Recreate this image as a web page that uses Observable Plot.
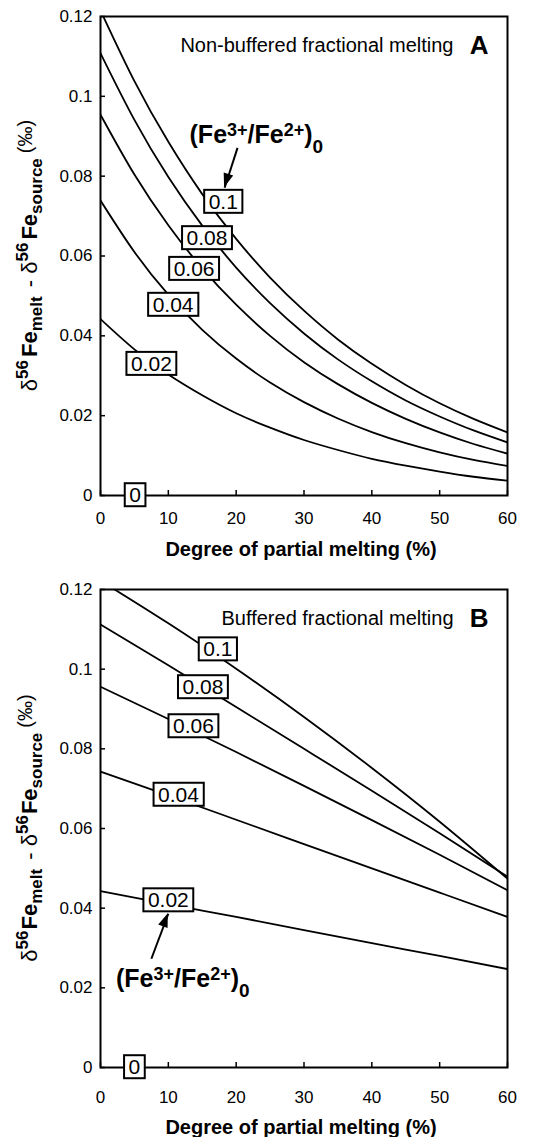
<!DOCTYPE html>
<html>
<head>
<meta charset="utf-8">
<script src="https://cdn.jsdelivr.net/npm/d3@7"></script>
<script src="https://cdn.jsdelivr.net/npm/@observablehq/plot@0.6"></script>
<style>
  html, body { margin: 0; padding: 0; background: #fff; }
  #wrap { width: 547px; }
  #wrap svg { display: block; }
</style>
</head>
<body>
<div id="wrap"></div>
<script>
// ---------- data ----------
const xTicks = [0, 10, 20, 30, 40, 50, 60];
const xTickLabels = ["0", "10", "20", "30", "40", "50", "60"];
const yTicks = [0, 0.02, 0.04, 0.06, 0.08, 0.1, 0.12];
const yTickLabels = ["0", "0.02", "0.04", "0.06", "0.08", "0.1", "0.12"];
const ratioKeys = ["0.1", "0.08", "0.06", "0.04", "0.02"];
const xTitle = "Degree of partial melting (%)";

// Panel A: non-buffered fractional melting
const meltA = [0, 5, 10, 15, 20, 25, 30, 35, 40, 45, 50, 55, 60];
const nonBuf010 = [0.1215, 0.1038, 0.0886, 0.0755, 0.0643, 0.0546, 0.0463, 0.0391, 0.0330, 0.0277, 0.0231, 0.0192, 0.0158];
const nonBuf008 = [0.1108, 0.0941, 0.0798, 0.0676, 0.0571, 0.0482, 0.0406, 0.0341, 0.0286, 0.0238, 0.0198, 0.0163, 0.0133];
const nonBuf006 = [0.0954, 0.0804, 0.0677, 0.0569, 0.0478, 0.0400, 0.0334, 0.0279, 0.0232, 0.0192, 0.0158, 0.0129, 0.0105];
const nonBuf004 = [0.0739, 0.0610, 0.0503, 0.0415, 0.0343, 0.0283, 0.0234, 0.0193, 0.0159, 0.0131, 0.0108, 0.0089, 0.0074];
const nonBuf002 = [0.0442, 0.0366, 0.0303, 0.0251, 0.0206, 0.0170, 0.0139, 0.0114, 0.0092, 0.0075, 0.0060, 0.0047, 0.0037];

// Panel B: buffered fractional melting
const meltB = [0, 10, 20, 30, 40, 50, 60];
const buf010 = [0.1222, 0.1115, 0.1001, 0.0880, 0.0752, 0.0617, 0.0474];
const buf008 = [0.1112, 0.1010, 0.0905, 0.0800, 0.0695, 0.0588, 0.0479];
const buf006 = [0.0956, 0.0875, 0.0792, 0.0707, 0.0621, 0.0534, 0.0445];
const buf004 = [0.0743, 0.0683, 0.0622, 0.0561, 0.0500, 0.0439, 0.0378];
const buf002 = [0.0443, 0.0410, 0.0378, 0.0345, 0.0312, 0.0280, 0.0247];

// curve labels (boxed)
const boxText = ["0.1", "0.08", "0.06", "0.04", "0.02", "0"];
const boxXA = [18.1, 15.7, 13.8, 10.7, 7.5, 5.1];
const boxYA = [0.0735, 0.0644, 0.0567, 0.0477, 0.0329, 0];
const boxXB = [17.3, 15.1, 13.7, 11.5, 10.0, 5.0];
const boxYB = [0.1049, 0.0954, 0.0856, 0.0684, 0.0419, 0];

// annotation "(Fe3+/Fe2+)0" with arrow
const annotA = {x: 13.2, y: 0.0883, from: [20.2, 0.0871], to: [18.3, 0.0771]};
const annotB = {x: 2.36, y: 0.0202, from: [7.5, 0.0273], to: [10.0, 0.0386]};

const FONT = '"Liberation Sans", Arial, Helvetica, sans-serif';
const BOX_FS = 21;

function buildPanel(cfg) {
  const rows = [];
  cfg.series.forEach((vals, k) => cfg.xs.forEach((x, i) => rows.push({F: x, d: vals[i], ratio: ratioKeys[k]})));
  const boxes = boxText.map((t, i) => ({t, x: cfg.boxX[i], y: cfg.boxY[i]}));
  const arrow = [{x1: cfg.annot.from[0], y1: cfg.annot.from[1], x2: cfg.annot.to[0], y2: cfg.annot.to[1]}];

  const svg = Plot.plot({
    width: 547,
    height: cfg.height,
    marginTop: cfg.marginTop,
    marginBottom: cfg.marginBottom,
    marginLeft: 100,
    marginRight: 40,
    style: {fontFamily: FONT, background: "white", color: "black", overflow: "visible"},
    x: {domain: [0, 60]},
    y: {domain: [0, 0.12]},
    marks: [
      Plot.line(rows, {x: "F", y: "d", z: "ratio", curve: "natural", stroke: "black", strokeWidth: 1.8, clip: true}),
      Plot.frame({stroke: "black", strokeWidth: 2}),
      Plot.axisX({ticks: xTicks, tickFormat: d => xTickLabels[xTicks.indexOf(d)], tickSize: -5, tickPadding: cfg.xPad,
                  strokeWidth: 1.5, fontSize: 17, label: null}),
      Plot.axisY({ticks: yTicks, tickFormat: d => yTickLabels[yTicks.indexOf(d)], tickSize: -5, tickPadding: 13,
                  strokeWidth: 1.5, fontSize: 17, label: null}),
      Plot.link(arrow, {x1: "x1", y1: "y1", x2: "x2", y2: "y2", stroke: "black", strokeWidth: 2}),
      Plot.text(boxes, {x: "x", y: "y", text: "t", fontSize: BOX_FS, fill: "black", lineAnchor: "middle"}),
      Plot.text([cfg.title], {frameAnchor: "top-right", text: d => d, textAnchor: "end", lineAnchor: "top",
                  dx: -54, dy: 21, fontSize: 20, fill: "black"}),
      Plot.text([cfg.letter], {frameAnchor: "top-right", text: d => d, textAnchor: "end", lineAnchor: "top",
                  dx: -19, dy: 19, fontSize: 26, fontWeight: "bold", fill: "black"}),
      Plot.text([xTitle], {frameAnchor: "bottom", text: d => d, lineAnchor: "top", dx: -3, dy: cfg.xTitleDy,
                  fontSize: 20, fontWeight: "bold", fill: "black"})
    ]
  });
  document.getElementById("wrap").appendChild(svg);

  const X = svg.scale("x"), Y = svg.scale("y");
  const ns = "http://www.w3.org/2000/svg";

  // boxes behind curve labels
  const boxSet = new Set(boxText);
  Array.from(svg.querySelectorAll("text")).forEach(node => {
    const g = node.parentNode;
    const lab = (g && g.getAttribute && g.getAttribute("aria-label")) || "";
    if (lab.indexOf("axis") >= 0) return;
    if (!boxSet.has(node.textContent)) return;
    const bb = node.getBBox();
    let bw = bb.width, cx = bb.x + bb.width / 2, cyy = bb.y + bb.height / 2;
    if (!(bw > 0)) { bw = node.textContent.length * 0.52 * BOX_FS; cx = 0; cyy = 0; }
    const bh = 23;
    const r = document.createElementNS(ns, "rect");
    r.setAttribute("x", cx - bw / 2 - 4.5);
    r.setAttribute("y", cyy - bh / 2);
    r.setAttribute("width", bw + 9);
    r.setAttribute("height", bh);
    const tr = node.getAttribute("transform");
    if (tr) r.setAttribute("transform", tr);
    r.setAttribute("fill", "white");
    r.setAttribute("stroke", "black");
    r.setAttribute("stroke-width", 2);
    g.insertBefore(r, node);
  });

  const root = d3.select(svg);

  // arrowhead
  const a = arrow[0];
  const x1 = X.apply(a.x1), y1 = Y.apply(a.y1), x2 = X.apply(a.x2), y2 = Y.apply(a.y2);
  const len = Math.hypot(x2 - x1, y2 - y1), ux = (x2 - x1) / len, uy = (y2 - y1) / len;
  const L = 14, W = 5;
  const hx = x2 - L * ux, hy = y2 - L * uy;
  root.append("polygon")
    .attr("points", [[x2, y2], [hx - W * uy, hy + W * ux], [hx + W * uy, hy - W * ux]].map(p => p.join(",")).join(" "))
    .attr("fill", "black");

  // rich annotation (Fe3+/Fe2+)0
  const t = root.append("text")
    .attr("x", X.apply(cfg.annot.x)).attr("y", Y.apply(cfg.annot.y))
    .attr("text-anchor", "start")
    .attr("font-family", FONT).attr("font-weight", "bold").attr("font-size", 25).attr("fill", "black");
  [["(Fe", 25, 0], ["3+", 18, -7], ["/Fe", 25, 7], ["2+", 18, -7], [")", 25, 7], ["0", 19, 10]].forEach(([s, fs, dy]) => {
    t.append("tspan").attr("font-size", fs).attr("dy", dy).text(s);
  });

  // y-axis label
  const cy = (cfg.marginTop + (cfg.height - cfg.marginBottom)) / 2;
  const yl = root.append("text")
    .attr("transform", `translate(37,${cy}) rotate(-90)`)
    .attr("text-anchor", "middle")
    .attr("font-family", FONT).attr("font-size", 22).attr("fill", "black");
  const parts = [
    ["δ", 22, "normal", 0, 0],
    ["56", 17, "bold", -9, 0],
    ["Fe", 22, "bold", 9, cfg.gap],
    ["melt", 17, "bold", 5, 0],
    [" - δ", 22, "normal", -5, 3],
    ["56", 17, "bold", -9, 0],
    ["Fe", 22, "bold", 9, cfg.gap],
    ["source", 17, "bold", 5, 0],
    ["(‰)", 20, "normal", -10, 5]
  ];
  parts.forEach(([s, fs, fw, dy, dx]) => {
    yl.append("tspan").attr("font-size", fs).attr("font-weight", fw).attr("dy", dy).attr("dx", dx).text(s);
  });
  return svg;
}

buildPanel({
  series: [nonBuf010, nonBuf008, nonBuf006, nonBuf004, nonBuf002],
  xs: meltA, boxX: boxXA, boxY: boxYA, annot: annotA,
  title: "Non-buffered fractional melting", letter: "A",
  height: 560, marginTop: 16, marginBottom: 65, xPad: 21, xTitleDy: 46, gap: 3
});
buildPanel({
  series: [buf010, buf008, buf006, buf004, buf002],
  xs: meltB, boxX: boxXB, boxY: boxYB, annot: annotB,
  title: "Buffered fractional melting", letter: "B",
  height: 577, marginTop: 29, marginBottom: 70, xPad: 28, xTitleDy: 52, gap: 1
});
</script>
</body>
</html>
